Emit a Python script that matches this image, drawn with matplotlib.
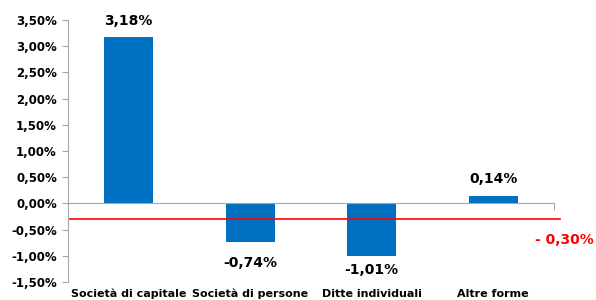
import matplotlib
matplotlib.use("Agg")
import matplotlib.pyplot as plt
import matplotlib.transforms as mtransforms

categories = ["Società di capitale", "Società di persone", "Ditte individuali", "Altre forme"]
values = [3.18, -0.74, -1.01, 0.14]
reference_value = -0.30
reference_label = "- 0,30%"
yticks = [-1.5, -1.0, -0.5, 0.0, 0.5, 1.0, 1.5, 2.0, 2.5, 3.0, 3.5]
label_offsets = [6, 10, 5, 7]  # points between bar end and its label

def fmt(v):
    return f"{v:.2f}%".replace(".", ",")

plt.rcParams['font.family'] = ['DejaVu Sans']
fig = plt.figure(figsize=(5.96, 3.0), dpi=100)
ax = fig.add_axes([68/596, 18/300, (554-68)/596, (282-20)/300])

x = list(range(len(categories)))
ax.bar(x, values, width=0.4, color="#0070C0", zorder=2)
ax.set_xlim(-0.5, len(categories) - 0.5)
ax.set_ylim(-1.5, 3.5)
ax.set_yticks(yticks)
ax.set_yticklabels([fmt(v) for v in yticks], fontsize=8.5, fontweight="bold")

ax.spines["top"].set_visible(False)
ax.spines["right"].set_visible(False)
ax.spines["left"].set_color("#A6A6A6")
ax.spines["bottom"].set_color("#A6A6A6")
ax.spines["bottom"].set_position(("data", 0))
ax.tick_params(axis="y", colors="#A6A6A6", labelcolor="black", length=4, direction="out", pad=4)
ax.set_xticks([len(categories) - 0.5])
ax.set_xticklabels([""])
ax.tick_params(axis="x", colors="#A6A6A6", length=5, direction="out")

# category labels at the bottom
trans = mtransforms.blended_transform_factory(ax.transData, ax.transAxes)
for xi, c in zip(x, categories):
    ax.text(xi, -0.025, c, transform=trans, ha="center", va="top", fontsize=8, fontweight="bold")

# value labels
for xi, v, off in zip(x, values, label_offsets):
    if v >= 0:
        ax.annotate(fmt(v), (xi, v), xytext=(0, off), textcoords="offset points",
                    ha="center", va="bottom", fontsize=10, fontweight="bold")
    else:
        ax.annotate(fmt(v), (xi, v), xytext=(0, -off), textcoords="offset points",
                    ha="center", va="top", fontsize=10, fontweight="bold")

# reference line
trans2 = mtransforms.blended_transform_factory(ax.transAxes, ax.transData)
ax.plot([0.004, 1.012], [reference_value, reference_value], color="red", lw=1.2,
        transform=trans2, clip_on=False, zorder=3)
trans3 = mtransforms.blended_transform_factory(fig.transFigure, ax.transData)
ax.text(0.997, reference_value - 0.40, reference_label, transform=trans3, ha="right", va="center",
        color="red", fontsize=10, fontweight="bold", clip_on=False)

fig.savefig("out.png", dpi=100)
